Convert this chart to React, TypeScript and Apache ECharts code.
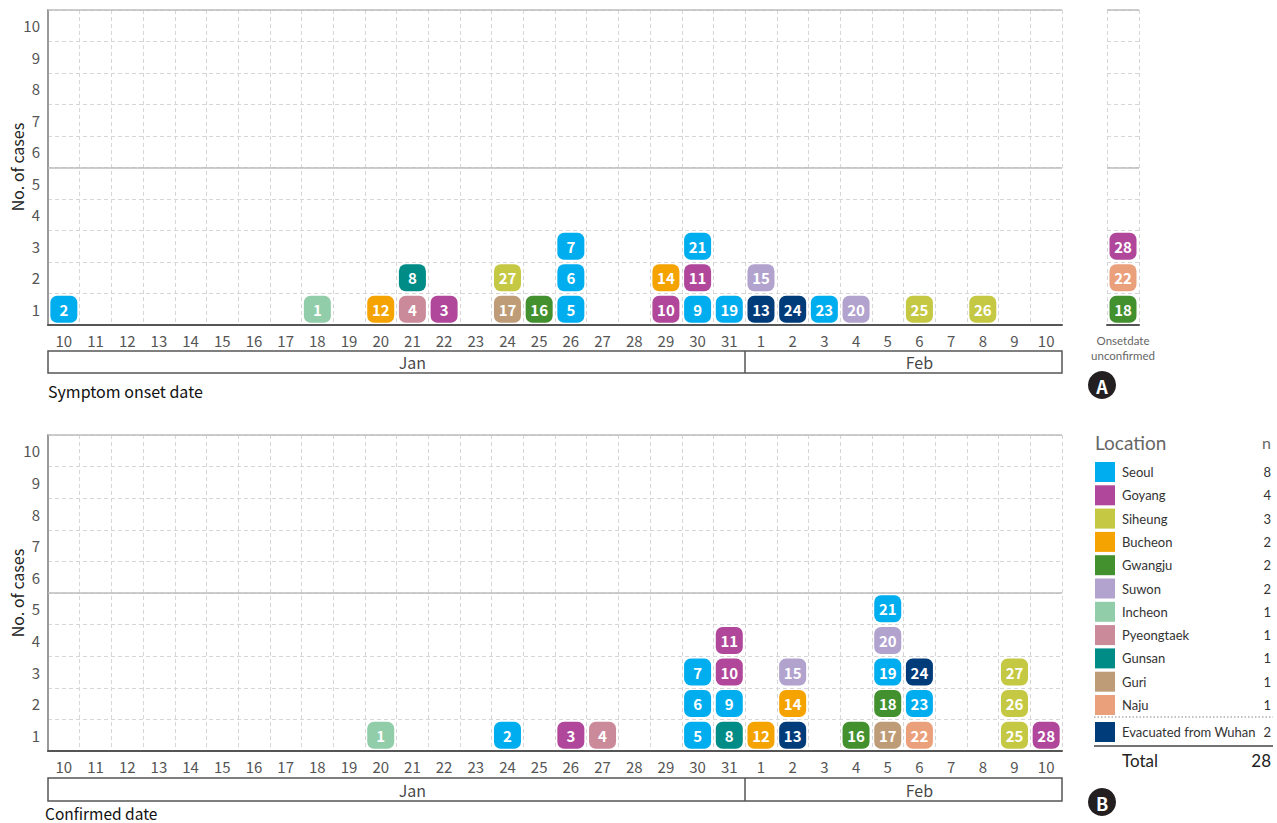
import React, { useEffect, useRef } from 'react';
import * as echarts from 'echarts';

// ---------- Data ----------
const janDays = ['10','11','12','13','14','15','16','17','18','19','20','21','22','23','24','25','26','27','28','29','30','31'];
const febDays = ['1','2','3','4','5','6','7','8','9','10'];
const months = ['Jan', 'Feb'];
const monthLengths = [janDays.length, febDays.length];
const dateKeys = [...janDays.map((d) => `Jan ${d}`), ...febDays.map((d) => `Feb ${d}`)];
const yLabels = ['1','2','3','4','5','6','7','8','9','10'];
const UNCONFIRMED = 'unconfirmed';

const locations = ['Seoul','Goyang','Siheung','Bucheon','Gwangju','Suwon','Incheon','Pyeongtaek','Gunsan','Guri','Naju','Evacuated from Wuhan'];
const locationColors = ['#00AEEF','#B0479A','#C5C843','#F5A300','#43902F','#B1A2CE','#90CDA8','#CB8A9A','#008C86','#BE9C77','#EBA07C','#003B7A'];
const locationCounts = [8,4,3,2,2,2,1,1,1,1,1,2];
const totalCases = 28;

const caseNumbers = [1,2,3,4,5,6,7,8,9,10,11,12,13,14,15,16,17,18,19,20,21,22,23,24,25,26,27,28];
const caseLocation = ['Incheon','Seoul','Goyang','Pyeongtaek','Seoul','Seoul','Seoul','Gunsan','Seoul','Goyang','Goyang','Bucheon','Evacuated from Wuhan','Bucheon','Suwon','Gwangju','Guri','Gwangju','Seoul','Suwon','Seoul','Naju','Seoul','Evacuated from Wuhan','Siheung','Siheung','Siheung','Goyang'];
const onsetDate = ['Jan 18','Jan 10','Jan 22','Jan 21','Jan 26','Jan 26','Jan 26','Jan 21','Jan 30','Jan 29','Jan 30','Jan 20','Feb 1','Jan 29','Feb 1','Jan 25','Jan 24',UNCONFIRMED,'Jan 31','Feb 4','Jan 30',UNCONFIRMED,'Feb 3','Feb 2','Feb 6','Feb 8','Jan 24',UNCONFIRMED];
const confirmedDate = ['Jan 20','Jan 24','Jan 26','Jan 27','Jan 30','Jan 30','Jan 30','Jan 31','Jan 31','Jan 31','Jan 31','Feb 1','Feb 2','Feb 2','Feb 2','Feb 4','Feb 5','Feb 5','Feb 5','Feb 5','Feb 5','Feb 6','Feb 6','Feb 6','Feb 9','Feb 9','Feb 9','Feb 10'];

// ---------- Helpers ----------
const FONT = '"Noto Sans CJK KR", "Noto Sans", sans-serif';
const LFONT = 'Lato, "Noto Sans", sans-serif';
const colorOf = (loc: string) => locationColors[locations.indexOf(loc)];

function stackCases(dates: string[], keep: (d: string) => boolean) {
  const counts: Record<string, number> = {};
  const out: any[] = [];
  caseNumbers.forEach((n, i) => {
    const d = dates[i];
    counts[d] = (counts[d] || 0) + 1;
    if (!keep(d)) return;
    out.push({
      name: String(n),
      value: [d, counts[d] - 0.5],
      itemStyle: { color: colorOf(caseLocation[i]), opacity: 1 },
    });
  });
  return out;
}

const gridDash = { color: '#d6d6d6', type: [4, 3] as any, width: 1 };

function squareSeries(xIdx: number, yIdx: number, data: any[]) {
  return {
    type: 'scatter',
    xAxisIndex: xIdx,
    yAxisIndex: yIdx,
    symbol: 'roundRect',
    symbolSize: [27, 27],
    itemStyle: { opacity: 1 },
    data,
    label: {
      show: true,
      position: 'inside',
      formatter: '{b}',
      color: '#fff',
      fontSize: 15,
      fontWeight: 'bold',
      fontFamily: FONT,
    },
    markLine: {
      silent: true,
      symbol: 'none',
      label: { show: false },
      lineStyle: { color: '#bdbdbd', type: 'solid', width: 1.5 },
      data: [{ yAxis: 5 }, { yAxis: 10 }],
    },
    z: 5,
  };
}

function bandSeries(xIdx: number, yIdx: number) {
  let start = 0;
  const data: any[] = [];
  const bounds: any[] = [];
  months.forEach((m, i) => {
    data.push({ name: m, value: [start + monthLengths[i] / 2 + 0.5, 0.5] });
    start += monthLengths[i];
    if (i < months.length - 1) bounds.push({ xAxis: start });
  });
  return {
    type: 'scatter',
    xAxisIndex: xIdx,
    yAxisIndex: yIdx,
    symbolSize: 1,
    itemStyle: { color: 'transparent' },
    data,
    label: { show: true, position: 'inside', formatter: '{b}', color: '#111', fontSize: 16, fontFamily: FONT },
    markLine: {
      silent: true,
      symbol: 'none',
      label: { show: false },
      lineStyle: { color: '#555', type: 'solid', width: 1.5 },
      data: bounds,
    },
  };
}

function mainXAxis(gridIndex: number) {
  return {
    type: 'category',
    gridIndex,
    data: dateKeys,
    boundaryGap: true,
    axisLine: { lineStyle: { color: '#555', width: 2 } },
    axisTick: { show: false },
    axisLabel: { interval: 0, color: '#555', fontSize: 15, margin: 8, fontFamily: FONT, formatter: (v: string) => v.split(' ')[1] },
    splitLine: { show: true, interval: 0, lineStyle: gridDash },
  };
}

function valueYAxis(gridIndex: number, showLine: boolean) {
  return {
    type: 'value',
    gridIndex,
    min: 0,
    max: 10,
    interval: 1,
    axisLine: { show: showLine, lineStyle: { color: '#999', width: 2 } },
    axisTick: { show: false },
    axisLabel: { show: false },
    splitLine: { show: true, lineStyle: gridDash },
  };
}

function labelYAxis(gridIndex: number) {
  return {
    type: 'category',
    gridIndex,
    data: yLabels,
    position: 'left',
    axisLine: { show: false },
    axisTick: { show: false },
    splitLine: { show: false },
    axisLabel: { color: '#555', fontSize: 15, margin: 8, fontFamily: FONT },
  };
}

function hiddenValueAxis(gridIndex: number, min: number, max: number) {
  return { type: 'value', gridIndex, min, max, show: false };
}

function yName(cy: number) {
  return {
    type: 'text', x: 17, y: cy, rotation: Math.PI / 2,
    style: { text: 'No. of cases', fontSize: 16, fill: '#222', textAlign: 'center', textVerticalAlign: 'middle', fontFamily: FONT },
  };
}

function legendGraphics() {
  const els: any[] = [];
  const x0 = 1095;
  const xRight = 1271;
  els.push({ type: 'text', x: x0, y: 442, style: { text: 'Location', fontSize: 19, fill: '#666', textVerticalAlign: 'middle', fontFamily: LFONT } });
  els.push({ type: 'text', x: 1271, y: 442, style: { text: 'n', fontSize: 16, fill: '#666', textAlign: 'right', textVerticalAlign: 'middle', fontFamily: LFONT } });
  const rowH = 23.3;
  const y0 = 472;
  const last = locations.length - 1;
  locations.forEach((loc, i) => {
    const cy = i < last ? y0 + i * rowH : 732;
    els.push({ type: 'rect', shape: { x: x0, y: cy - 10, width: 20, height: 20 }, style: { fill: locationColors[i] } });
    els.push({ type: 'text', x: 1122, y: cy, style: { text: loc, fontSize: 13, fill: '#333', textVerticalAlign: 'middle', fontFamily: LFONT } });
    els.push({ type: 'text', x: xRight, y: cy, style: { text: String(locationCounts[i]), fontSize: 13, fill: '#333', textAlign: 'right', textVerticalAlign: 'middle', fontFamily: LFONT } });
  });
  els.push({ type: 'line', shape: { x1: 1094, y1: 717, x2: 1273, y2: 717 }, style: { stroke: '#888', lineWidth: 1, lineDash: [1.5, 2] } });
  els.push({ type: 'line', shape: { x1: 1094, y1: 746, x2: 1273, y2: 746 }, style: { stroke: '#444', lineWidth: 1.5 } });
  els.push({ type: 'text', x: 1122, y: 760, style: { text: 'Total', fontSize: 17, fill: '#222', textVerticalAlign: 'middle', fontFamily: LFONT } });
  els.push({ type: 'text', x: xRight, y: 760, style: { text: String(totalCases), fontSize: 17, fill: '#222', textAlign: 'right', textVerticalAlign: 'middle', fontFamily: LFONT } });
  return els;
}

function badge(letter: string, cx: number, cy: number) {
  return [
    { type: 'circle', shape: { cx, cy, r: 14 }, style: { fill: '#231f20' } },
    { type: 'text', x: cx, y: cy + 1, style: { text: letter, fontSize: 18, fontWeight: 'bold', fill: '#fff', textAlign: 'center', textVerticalAlign: 'middle', fontFamily: FONT } },
  ];
}

const G = { outerBoundsMode: 'none', containLabel: false };

export default function App() {
  const ref = useRef<HTMLDivElement>(null);
  useEffect(() => {
    document.body.style.margin = '0';
    if (!ref.current) return;
    const chart = echarts.init(ref.current, undefined, { renderer: 'svg' });

    const onsetMain = stackCases(onsetDate, (d) => d !== UNCONFIRMED);
    const onsetUnc = stackCases(onsetDate, (d) => d === UNCONFIRMED);
    const confirmed = stackCases(confirmedDate, () => true);

    const option: any = {
      animation: false,
      backgroundColor: '#fff',
      textStyle: { fontFamily: FONT },
      grid: [
        { ...G, left: 48, top: 10, width: 1014, height: 315 },
        { ...G, left: 1107, top: 10, width: 32, height: 315 },
        { ...G, left: 48, top: 351, width: 1014, height: 22, show: true, borderColor: '#555', borderWidth: 1.5 },
        { ...G, left: 48, top: 435, width: 1014, height: 316 },
        { ...G, left: 48, top: 778, width: 1014, height: 23, show: true, borderColor: '#555', borderWidth: 1.5 },
      ],
      xAxis: [
        mainXAxis(0),
        {
          type: 'category', gridIndex: 1, data: [UNCONFIRMED], boundaryGap: true,
          axisLine: { lineStyle: { color: '#555', width: 2 } }, axisTick: { show: false }, axisLabel: { show: false },
          splitLine: { show: true, interval: 0, lineStyle: gridDash },
        },
        hiddenValueAxis(2, 0, dateKeys.length),
        mainXAxis(3),
        hiddenValueAxis(4, 0, dateKeys.length),
      ],
      yAxis: [
        valueYAxis(0, true),
        labelYAxis(0),
        valueYAxis(1, false),
        hiddenValueAxis(2, 0, 1),
        valueYAxis(3, true),
        labelYAxis(3),
        hiddenValueAxis(4, 0, 1),
      ],
      series: [
        squareSeries(0, 0, onsetMain),
        squareSeries(1, 2, onsetUnc),
        bandSeries(2, 3),
        squareSeries(3, 4, confirmed),
        bandSeries(4, 6),
      ],
      graphic: [
        yName(167),
        yName(593),
        { type: 'text', x: 48, y: 391, style: { text: 'Symptom onset date', fontSize: 16, fill: '#111', textVerticalAlign: 'middle', fontFamily: FONT } },
        { type: 'text', x: 45, y: 813, style: { text: 'Confirmed date', fontSize: 15.5, fill: '#111', textVerticalAlign: 'middle', fontFamily: FONT } },
        { type: 'text', x: 1123, y: 340, style: { text: 'Onsetdate', fontSize: 11.5, fill: '#666', textAlign: 'center', textVerticalAlign: 'middle', fontFamily: LFONT } },
        { type: 'text', x: 1123, y: 355, style: { text: 'unconfirmed', fontSize: 11.5, fill: '#666', textAlign: 'center', textVerticalAlign: 'middle', fontFamily: LFONT } },
        ...badge('A', 1102, 385),
        ...badge('B', 1102, 802),
        ...legendGraphics(),
      ],
    };
    chart.setOption(option);
    return () => chart.dispose();
  }, []);
  return <div ref={ref} style={{ position: 'fixed', left: 0, top: 0, width: 1277, height: 823 }} />;
}
